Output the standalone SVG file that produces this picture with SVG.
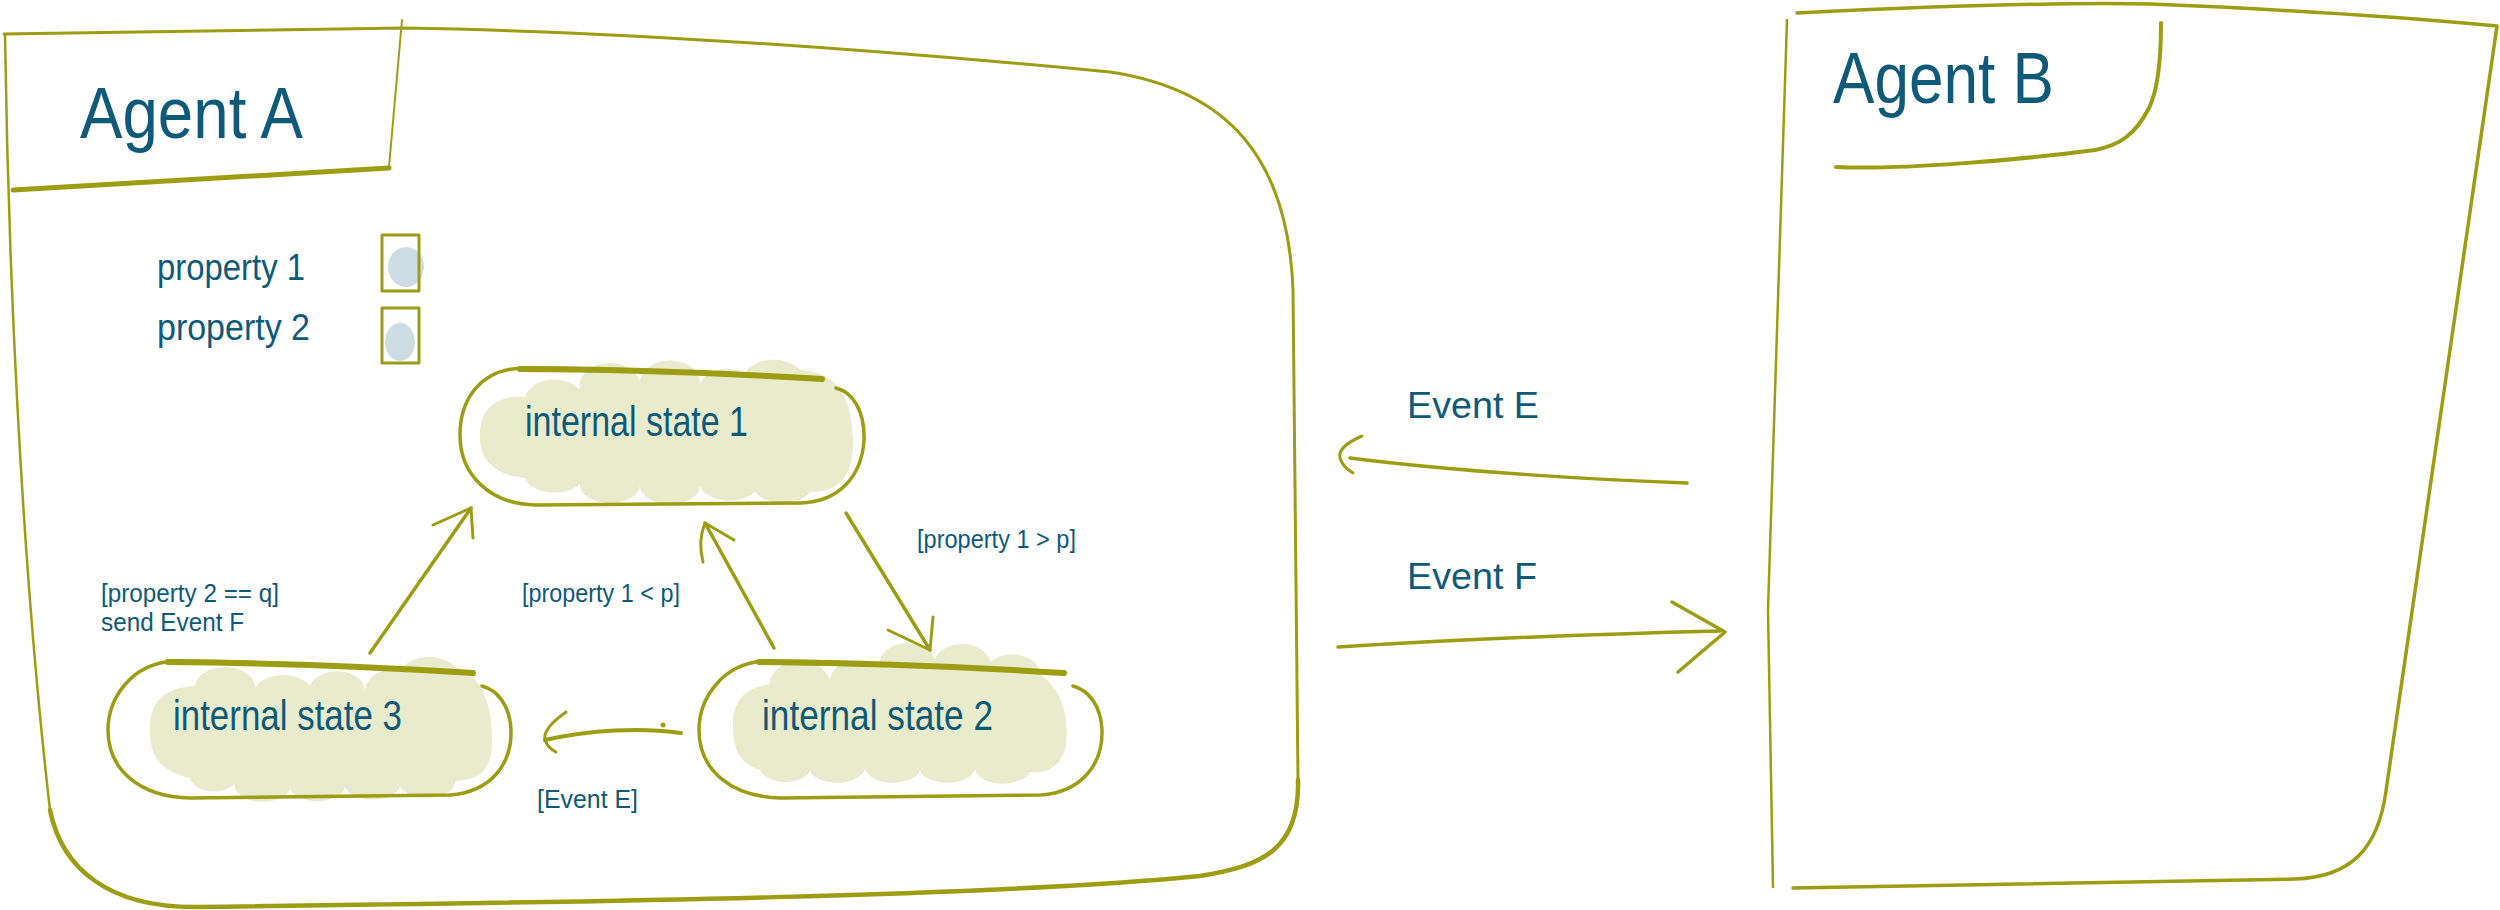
<svg xmlns="http://www.w3.org/2000/svg" width="2500" height="910" viewBox="0 0 2500 910">
<style>
.s{fill:none;stroke:#9c9d12;stroke-linecap:round;stroke-linejoin:round}
.t{font-family:"Liberation Sans Narrow","Liberation Sans",Arial,sans-serif;fill:#0e5a78}
.title{font-size:72px}
.prop{font-size:36px}
.st{font-size:42px}
.lbl{font-size:25px}
.ev{font-size:37px}
.blob{fill:#e9ebcd}
.pblob{fill:#cddde3}
</style>
<rect width="2500" height="910" fill="#ffffff"/>

<g id="agentA">
  <path class="s" stroke-width="3" d="M4,34 L404,28 C650,32 900,52 1110,72 C1230,90 1288,160 1293,290 L1298,780"/>
  <path class="s" stroke-width="4.5" d="M1298,780 C1300,850 1262,866 1200,876 C1000,896 600,902 194,907 C110,907 62,870 50,810"/>
  <path class="s" stroke-width="2.5" d="M50,810 C20,550 8,250 5,34"/>
  <path class="s" stroke-width="2" d="M402,20 L389,167"/>
  <path class="s" stroke-width="5" d="M389,168 C250,176 120,184 13,190"/>
  <text class="t title" x="80" y="138" textLength="223" lengthAdjust="spacingAndGlyphs">Agent A</text>
</g>

<g id="property1">
  <text class="t prop" x="157" y="280" textLength="148" lengthAdjust="spacingAndGlyphs">property 1</text>
  <ellipse class="pblob" cx="406" cy="267" rx="18" ry="20"/>
  <rect class="s" stroke-width="3" x="382" y="235" width="37" height="56"/>
</g>
<g id="property2">
  <text class="t prop" x="157" y="340" textLength="153" lengthAdjust="spacingAndGlyphs">property 2</text>
  <ellipse class="pblob" cx="400" cy="342" rx="15" ry="19"/>
  <rect class="s" stroke-width="3" x="382" y="308" width="37" height="55"/>
</g>

<g id="state1">
  <path class="blob" d="M480,440 C478,405 500,395 525,397 A30 22 0 0 1 580,390 A30 22 0 0 1 640,381 A30 22 0 0 1 700,384 A28 22 0 0 1 745,374 A30 20 0 0 1 800,370 C840,372 852,400 853,440 C854,475 840,492 810,492 A30 18 0 0 1 755,492 A30 18 0 0 1 700,486 A30 18 0 0 1 640,486 A30 18 0 0 1 580,484 A30 18 0 0 1 525,478 C495,475 481,460 480,440 Z"/>
  <path class="s" stroke-width="3.5" d="M820,378 C700,372 600,368 525,368 C480,368 460,400 460,435 C460,475 490,504 535,505 L800,503 C840,502 862,475 864,440 C865,410 852,392 836,388"/>
  <path class="s" stroke-width="6" d="M520,369 C620,369 720,373 822,379"/>
  <text class="t st" x="525" y="436" textLength="223" lengthAdjust="spacingAndGlyphs">internal state 1</text>
</g>

<g id="state2">
  <path class="blob" d="M733,728 C732,700 745,688 770,684 A28 20 0 0 1 830,682 A28 22 0 0 1 880,668 A28 20 0 0 1 935,659 A28 20 0 0 1 990,662 A28 20 0 0 1 1040,674 C1062,690 1069,715 1066,745 C1062,768 1045,774 1030,772 A28 16 0 0 1 975,768 A28 16 0 0 1 920,771 A28 16 0 0 1 865,768 A28 16 0 0 1 810,771 A26 16 0 0 1 760,770 C740,765 733,748 733,728 Z"/>
  <path class="s" stroke-width="3.5" d="M1064,673 C960,667 850,661 766,661 C721,663 699,700 699,730 C699,770 731,797 781,798 L1041,795 C1081,792 1103,765 1102,730 C1101,705 1088,690 1073,686"/>
  <path class="s" stroke-width="6" d="M759,662 C861,663 971,667 1064,673"/>
  <text class="t st" x="762" y="730" textLength="231" lengthAdjust="spacingAndGlyphs">internal state 2</text>
</g>

<g id="state3">
  <path class="blob" d="M150,735 C148,700 165,688 195,686 A30 20 0 0 1 255,688 A30 20 0 0 1 310,686 A28 20 0 0 1 365,690 A25 22 0 0 1 400,672 A30 20 0 0 1 455,667 C485,675 492,710 492,740 C492,770 480,780 455,781 A28 16 0 0 1 400,786 A28 16 0 0 1 345,787 A28 16 0 0 1 290,789 A28 16 0 0 1 235,783 A24 16 0 0 1 190,778 C160,772 151,755 150,735 Z"/>
  <path class="s" stroke-width="3.5" d="M473,673 C370,667 260,661 175,661 C130,663 108,700 108,730 C108,770 140,797 190,798 L450,795 C490,792 512,765 511,730 C510,705 497,690 482,686"/>
  <path class="s" stroke-width="6" d="M168,662 C270,663 380,667 473,673"/>
  <text class="t st" x="173" y="730" textLength="229" lengthAdjust="spacingAndGlyphs">internal state 3</text>
</g>

<g id="agentB">
  <path class="s" stroke-width="3.5" d="M1797,13 C1900,8 2050,2 2150,4 C2300,10 2400,17 2497,26 L2386,791 C2378,850 2350,877 2295,879 L1793,888"/>
  <path class="s" stroke-width="2.5" d="M1787,20 L1768,610 L1773,887"/>
  <path class="s" stroke-width="4" d="M2161,23 C2161,60 2158,90 2149,108 C2135,135 2120,145 2095,150 C2020,160 1900,170 1836,167"/>
  <text class="t title" x="1833" y="103" textLength="221" lengthAdjust="spacingAndGlyphs">Agent B</text>
</g>

<g id="connectors">
  <path class="s" stroke-width="3.5" d="M370,653 L471,508"/>
  <path class="s" stroke-width="3" d="M433,525 L471,508 L473,538"/>
  <path class="s" stroke-width="3.5" d="M774,648 L705,523"/>
  <path class="s" stroke-width="3" d="M734,540 L705,523 C700,535 700,550 703,562"/>
  <path class="s" stroke-width="3.5" d="M846,513 L930,650"/>
  <path class="s" stroke-width="3" d="M888,630 L930,650 L933,617"/>
  <path class="s" stroke-width="4" d="M681,733 C640,727 590,730 545,740"/>
  <path class="s" stroke-width="3" d="M566,712 C552,722 543,732 545,740 C547,746 552,750 556,752"/>
  <circle cx="663" cy="725" r="2.5" fill="#9c9d12"/>
  <path class="s" stroke-width="3.5" d="M1687,483 C1600,480 1460,472 1350,458"/>
  <path class="s" stroke-width="3" d="M1362,436 C1348,442 1338,450 1340,458 C1342,465 1348,470 1353,473"/>
  <path class="s" stroke-width="3.5" d="M1338,647 C1450,640 1600,634 1720,631"/>
  <path class="s" stroke-width="3.5" d="M1672,602 L1725,632 L1678,672"/>
</g>

<g id="labels">
  <text class="t lbl" x="101" y="602" textLength="178" lengthAdjust="spacingAndGlyphs">[property 2 == q]</text>
  <text class="t lbl" x="101" y="631" textLength="143" lengthAdjust="spacingAndGlyphs">send Event F</text>
  <text class="t lbl" x="522" y="602" textLength="158" lengthAdjust="spacingAndGlyphs">[property 1 &lt; p]</text>
  <text class="t lbl" x="917" y="548" textLength="159" lengthAdjust="spacingAndGlyphs">[property 1 &gt; p]</text>
  <text class="t lbl" x="537" y="808" textLength="101" lengthAdjust="spacingAndGlyphs">[Event E]</text>
  <text class="t ev" x="1407" y="418" textLength="132" lengthAdjust="spacingAndGlyphs">Event E</text>
  <text class="t ev" x="1407" y="589" textLength="130" lengthAdjust="spacingAndGlyphs">Event F</text>
</g>
</svg>
